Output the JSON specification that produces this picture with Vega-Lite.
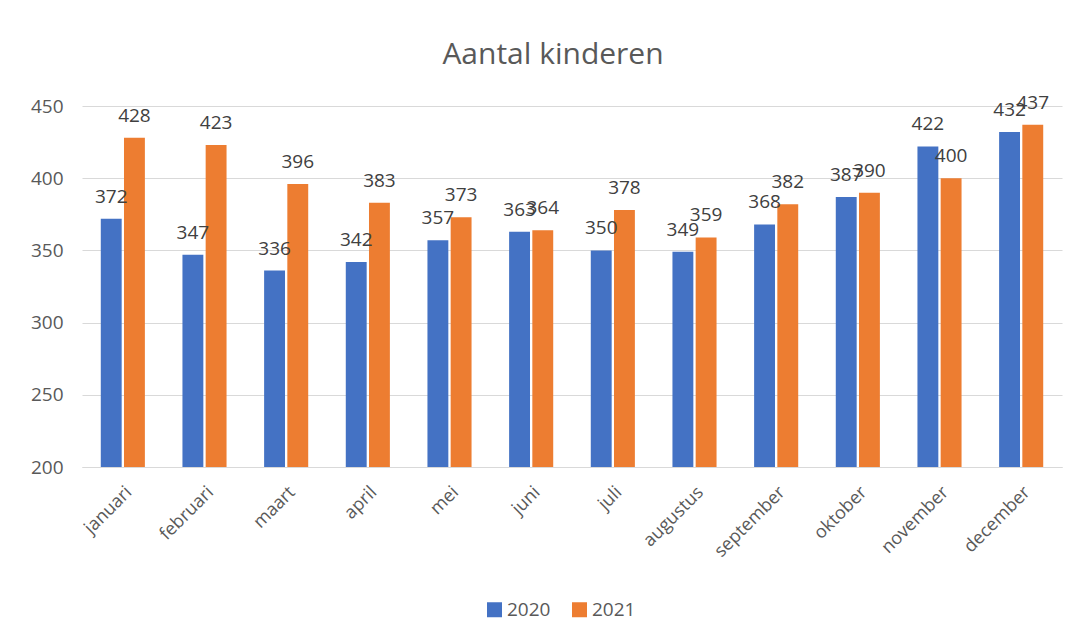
{
  "$schema": "https://vega.github.io/schema/vega-lite/v6.json",
  "autosize": "none",
  "width": 980,
  "height": 361,
  "padding": {"left": 82, "top": 106, "right": 22, "bottom": 172},
  "background": "white",
  "title": {"text": "Aantal kinderen", "fontSize": 30, "font": "Open Sans", "fontWeight": "normal", "color": "#595959", "offset": 24, "dx": -19},
  "config": {"view": {"stroke": null}, "font": "Open Sans"},
  "data": {"values": [
    {"maand": "januari", "jaar": "2020", "aantal": 372},
    {"maand": "januari", "jaar": "2021", "aantal": 428},
    {"maand": "februari", "jaar": "2020", "aantal": 347},
    {"maand": "februari", "jaar": "2021", "aantal": 423},
    {"maand": "maart", "jaar": "2020", "aantal": 336},
    {"maand": "maart", "jaar": "2021", "aantal": 396},
    {"maand": "april", "jaar": "2020", "aantal": 342},
    {"maand": "april", "jaar": "2021", "aantal": 383},
    {"maand": "mei", "jaar": "2020", "aantal": 357},
    {"maand": "mei", "jaar": "2021", "aantal": 373},
    {"maand": "juni", "jaar": "2020", "aantal": 363},
    {"maand": "juni", "jaar": "2021", "aantal": 364},
    {"maand": "juli", "jaar": "2020", "aantal": 350},
    {"maand": "juli", "jaar": "2021", "aantal": 378},
    {"maand": "augustus", "jaar": "2020", "aantal": 349},
    {"maand": "augustus", "jaar": "2021", "aantal": 359},
    {"maand": "september", "jaar": "2020", "aantal": 368},
    {"maand": "september", "jaar": "2021", "aantal": 382},
    {"maand": "oktober", "jaar": "2020", "aantal": 387},
    {"maand": "oktober", "jaar": "2021", "aantal": 390},
    {"maand": "november", "jaar": "2020", "aantal": 422},
    {"maand": "november", "jaar": "2021", "aantal": 400},
    {"maand": "december", "jaar": "2020", "aantal": 432},
    {"maand": "december", "jaar": "2021", "aantal": 437}
  ]},
  "encoding": {
    "x": {"field": "maand", "type": "nominal", "sort": null,
      "scale": {"paddingInner": 0.46, "paddingOuter": 0.23},
      "axis": {"title": null, "labelAngle": -45, "labelFontSize": 18, "labelColor": "#595959", "ticks": false, "domainColor": "#d9d9d9", "labelPadding": 16}},
    "xOffset": {"field": "jaar", "type": "nominal", "scale": {"paddingInner": 0.1}},
    "y": {"field": "aantal", "type": "quantitative",
      "scale": {"domain": [200, 450], "zero": false},
      "axis": {"title": null, "values": [200, 250, 300, 350, 400, 450], "domain": false, "ticks": false, "gridColor": "#d9d9d9", "labelFontSize": 19, "labelColor": "#595959", "labelPadding": 19}}
  },
  "layer": [
    {"mark": {"type": "bar", "clip": true},
     "encoding": {
       "color": {"field": "jaar", "type": "nominal",
         "scale": {"domain": ["2020", "2021"], "range": ["#4472C4", "#ED7D31"]},
         "legend": {"title": null, "orient": "none", "direction": "horizontal", "legendX": 403, "legendY": 494, "symbolType": "square", "symbolSize": 225, "labelFontSize": 19, "labelColor": "#595959", "columnPadding": 19, "labelOffset": 3, "symbolStrokeWidth": 0}}
     }},
    {"mark": {"type": "text", "baseline": "alphabetic", "dy": -16, "fontSize": 19, "color": "#404040"},
     "encoding": {"text": {"field": "aantal", "type": "quantitative"}}}
  ]
}
